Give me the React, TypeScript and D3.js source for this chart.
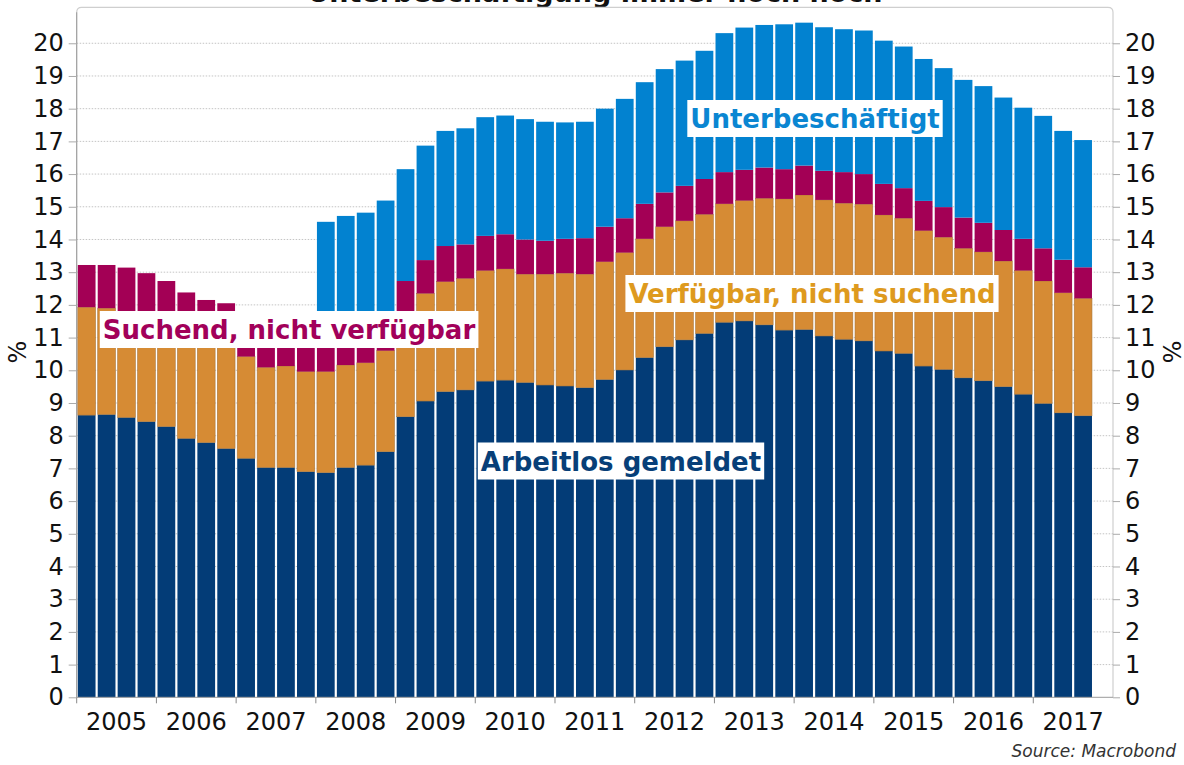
import React, { useEffect, useRef } from "react";
import * as d3 from "d3";

// quarters 2005 Q1 .. 2017 Q4 (last quarter has no data yet)
const years = ["2005", "2006", "2007", "2008", "2009", "2010", "2011", "2012", "2013", "2014", "2015", "2016", "2017"];
const quarters = years.flatMap((y) => ["Q1", "Q2", "Q3", "Q4"].map((q) => `${y} ${q}`));

// segment heights, percent
const arbeitlos = [
  8.63, 8.65, 8.56, 8.43, 8.28, 7.92, 7.79, 7.61, 7.31, 7.03, 7.03, 6.9, 6.87, 7.03, 7.1, 7.51,
  8.58, 9.06, 9.35, 9.4, 9.67, 9.7, 9.63, 9.55, 9.52, 9.47, 9.72, 10.01, 10.39, 10.72, 10.93, 11.13,
  11.47, 11.51, 11.39, 11.23, 11.25, 11.05, 10.95, 10.9, 10.59, 10.52, 10.13, 10.03, 9.77, 9.68, 9.5, 9.27,
  8.99, 8.7, 8.61,
];
const verfuegbar = [
  3.3, 3.25, 3.24, 3.22, 3.17, 3.18, 3.11, 3.14, 3.11, 3.06, 3.1, 3.06, 3.09, 3.13, 3.13, 3.09,
  3.02, 3.29, 3.36, 3.41, 3.38, 3.4, 3.31, 3.39, 3.45, 3.47, 3.6, 3.59, 3.63, 3.67, 3.64, 3.64,
  3.62, 3.68, 3.87, 4.01, 4.11, 4.16, 4.16, 4.18, 4.16, 4.13, 4.14, 4.04, 3.96, 3.94, 3.84, 3.78,
  3.74, 3.67, 3.59,
];
const suchend = [
  1.29, 1.32, 1.34, 1.32, 1.28, 1.28, 1.25, 1.3, 1.23, 1.31, 1.32, 1.34, 1.34, 1.34, 1.37, 1.15,
  1.13, 1.02, 1.09, 1.04, 1.06, 1.06, 1.06, 1.02, 1.05, 1.1, 1.07, 1.05, 1.07, 1.05, 1.07, 1.08,
  0.97, 0.94, 0.94, 0.91, 0.9, 0.89, 0.95, 0.92, 0.95, 0.92, 0.91, 0.92, 0.94, 0.89, 0.95, 0.97,
  1.0, 1.01, 0.95,
];
const unterbeschaeftigt = [
  0, 0, 0, 0, 0, 0, 0, 0, 0, 0, 0, 0, 3.24, 3.22, 3.22, 3.44,
  3.42, 3.5, 3.52, 3.55, 3.63, 3.63, 3.68, 3.64, 3.56, 3.56, 3.61, 3.65, 3.72, 3.77, 3.83, 3.92,
  4.25, 4.35, 4.36, 4.43, 4.37, 4.39, 4.37, 4.39, 4.38, 4.33, 4.34, 4.25, 4.21, 4.18, 4.05, 4.01,
  4.05, 3.94, 3.89,
];

const keys = ["arbeitlos", "verfuegbar", "suchend", "unterbeschaeftigt"];
const colors = ["#033c77", "#d68b34", "#a30055", "#0282d0"];

const labels = [
  { text: "Suchend, nicht verfügbar", cx: 289, cy: 329.5, color: "#a2005a" },
  { text: "Unterbeschäftigt", cx: 815, cy: 118.5, color: "#0a86d2" },
  { text: "Verfügbar, nicht suchend", cx: 812, cy: 293.5, color: "#de9a1e" },
  { text: "Arbeitlos gemeldet", cx: 621, cy: 461, color: "#073f78" },
];

const W = 1184;
const H = 765;
const FONT = "Verdana, 'DejaVu Sans', sans-serif";

export default function App() {
  const ref = useRef<SVGSVGElement>(null);

  useEffect(() => {
    const svg = d3.select(ref.current);
    svg.selectAll("*").remove();

    const left = 76.7;
    const right = 1113;
    const top = 7.3;
    const bottom = 697.3;

    const x = d3.scaleBand().domain(quarters).range([left, right]).paddingInner(0.11).paddingOuter(0.055);
    const y = d3.scaleLinear().domain([0, 21.1]).range([bottom, top]);
    const half = (x.step() - x.bandwidth()) / 2;

    // title, mostly cut off by the top of the image
    svg.append("text")
      .attr("x", 595)
      .attr("y", 2)
      .attr("text-anchor", "middle")
      .attr("font-family", FONT)
      .attr("font-weight", "bold")
      .attr("font-size", 27)
      .attr("fill", "#111")
      .text("Unterbeschäftigung immer noch hoch");

    // frame
    svg.append("path")
      .attr("d", `M${left},${bottom} V${top + 5} Q${left},${top} ${left + 5},${top} H${right - 5} Q${right},${top} ${right},${top + 5} V${bottom}`)
      .attr("fill", "none")
      .attr("stroke", "#cfcfcf")
      .attr("stroke-width", 1.2);

    // grid
    svg.append("g")
      .selectAll("line")
      .data(d3.range(1, 21))
      .join("line")
      .attr("x1", left)
      .attr("x2", right)
      .attr("y1", (d) => y(d))
      .attr("y2", (d) => y(d))
      .attr("stroke", "#c4c4c4")
      .attr("stroke-dasharray", "1.5,1.5");

    // stacked bars
    const rows = arbeitlos.map((_, i) => ({
      q: quarters[i],
      arbeitlos: arbeitlos[i],
      verfuegbar: verfuegbar[i],
      suchend: suchend[i],
      unterbeschaeftigt: unterbeschaeftigt[i],
    }));
    const series = d3.stack().keys(keys)(rows as any);

    svg.append("g")
      .selectAll("g")
      .data(series)
      .join("g")
      .attr("fill", (_, i) => colors[i])
      .selectAll("rect")
      .data((s) => s.filter((d) => d[1] - d[0] > 0))
      .join("rect")
      .attr("x", (d: any) => x(d.data.q)!)
      .attr("width", x.bandwidth())
      .attr("y", (d) => y(d[1]))
      .attr("height", (d) => y(d[0]) - y(d[1]))
      .attr("stroke", (d, i, n) => ((n[i] as any).parentNode.__data__.key === "verfuegbar" ? "#a9773d" : "none"))
      .attr("stroke-width", 0.6);

    // axes lines
    svg.append("line")
      .attr("x1", left).attr("x2", left).attr("y1", top + 5).attr("y2", bottom)
      .attr("stroke", "#9a9a9a");
    svg.append("line")
      .attr("x1", left).attr("x2", right).attr("y1", bottom).attr("y2", bottom)
      .attr("stroke", "#9a9a9a");

    const ticks = d3.range(0, 21);
    const yl = svg.append("g")
      .attr("transform", `translate(${left},0)`)
      .call(d3.axisLeft(y).tickValues(ticks).tickSize(8).tickPadding(5).tickFormat(d3.format("d")));
    const yr = svg.append("g")
      .attr("transform", `translate(${right},0)`)
      .call(d3.axisRight(y).tickValues(ticks).tickSize(7).tickPadding(5).tickFormat(d3.format("d")));
    [yl, yr].forEach((g) => {
      g.select(".domain").remove();
      g.selectAll(".tick line").attr("stroke", "#aaa");
      g.selectAll(".tick text")
        .attr("font-family", FONT)
        .attr("font-size", 24)
        .attr("fill", "#111");
    });

    // year ticks and labels
    const xg = svg.append("g");
    years.forEach((yr) => {
      const x0 = x(`${yr} Q1`)! - half;
      xg.append("line")
        .attr("x1", x0).attr("x2", x0).attr("y1", bottom).attr("y2", bottom + 6)
        .attr("stroke", "#888");
      xg.append("text")
        .attr("x", x0 + 2 * x.step())
        .attr("y", 730)
        .attr("text-anchor", "middle")
        .attr("font-family", FONT)
        .attr("font-size", 24)
        .attr("fill", "#111")
        .text(yr);
    });

    // % units
    svg.append("text")
      .attr("transform", "translate(26,352) rotate(-90)")
      .attr("text-anchor", "middle")
      .attr("font-family", FONT)
      .attr("font-size", 24)
      .attr("fill", "#111")
      .text("%");
    svg.append("text")
      .attr("transform", "translate(1163,352) rotate(90)")
      .attr("text-anchor", "middle")
      .attr("font-family", FONT)
      .attr("font-size", 24)
      .attr("fill", "#111")
      .text("%");

    // series labels on white boxes
    labels.forEach((l) => {
      const g = svg.append("g");
      const r = g.append("rect").attr("fill", "#fff");
      const t = g.append("text")
        .attr("x", l.cx)
        .attr("y", l.cy + 9.5)
        .attr("text-anchor", "middle")
        .attr("font-family", FONT)
        .attr("font-weight", "bold")
        .attr("font-size", 26)
        .attr("fill", l.color)
        .text(l.text);
      const bb = (t.node() as SVGTextElement).getBBox();
      r.attr("x", bb.x - 3)
        .attr("width", bb.width + 6)
        .attr("y", l.cy - 18.5)
        .attr("height", 37);
    });

    svg.append("text")
      .attr("x", 1176)
      .attr("y", 757)
      .attr("text-anchor", "end")
      .attr("font-family", FONT)
      .attr("font-style", "italic")
      .attr("font-size", 17)
      .attr("fill", "#333")
      .text("Source: Macrobond");
  }, []);

  return (
    <svg
      ref={ref}
      width={W}
      height={H}
      style={{ position: "absolute", left: 0, top: 0, background: "#fff" }}
    />
  );
}
